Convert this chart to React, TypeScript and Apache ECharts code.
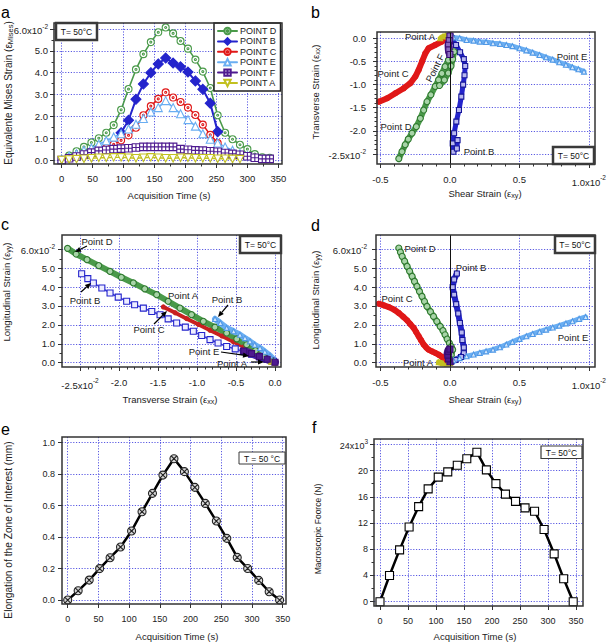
import React, { useEffect, useRef } from 'react';
import * as echarts from 'echarts';

const FONT = '"Liberation Sans", Arial, Helvetica, sans-serif';

// ---------- Panel a : equivalent Mises strain (x1e-2) vs acquisition time ----------
const timeA = [0, 12, 24, 36, 48, 60, 72, 84, 96, 108, 120, 132, 144, 156, 168, 180, 192, 204, 216, 228, 240, 252, 264, 276, 288, 300, 312, 324, 336];
const misesD = [0.0, 0.2, 0.4, 0.6, 0.8, 1.0, 1.25, 1.6, 2.3, 3.25, 4.15, 4.85, 5.4, 5.85, 6.07, 5.8, 5.45, 5.1, 4.6, 4.05, 3.3, 2.05, 1.25, 0.95, 0.7, 0.5, 0.27, 0.12, 0.1];
const misesB = [null, null, null, null, null, null, null, null, 1.25, 1.82, 2.78, 3.48, 4.0, 4.4, 4.67, 4.44, 4.27, 4.03, 3.62, 3.24, 2.6, 1.3, null, null, null, null, null, null, null];
const misesC = [null, null, null, null, null, null, 0.55, 0.72, 0.9, 1.13, 1.48, 2.05, 2.47, 2.8, 3.1, 2.86, 2.66, 2.4, 2.06, 1.62, 1.15, 0.78, null, null, null, null, null, null, null];
const misesE = [0.05, 0.18, 0.29, 0.44, 0.55, 0.72, 0.88, 1.05, 1.2, 1.42, 1.64, 1.9, 2.2, 2.4, 2.72, 2.4, 2.12, 1.85, 1.55, 1.2, 0.95, 0.78, 0.6, 0.45, 0.3, 0.2, null, null, null];
const misesF = [0, 0.08, 0.16, 0.25, 0.34, 0.42, 0.46, 0.5, 0.52, 0.54, 0.57, 0.6, 0.6, 0.6, 0.6, 0.6, 0.5, 0.47, 0.44, 0.43, 0.4, 0.38, 0.32, 0.28, 0.24, 0.17, 0.1, 0.05, 0.05];
const misesA = [0, 0.02, 0.04, 0.06, 0.08, 0.1, 0.1, 0.12, 0.12, 0.1, 0.08, 0.1, 0.12, 0.1, 0.08, 0.08, 0.1, 0.1, 0.08, 0.08, 0.08, 0.06, 0.06, 0.05, 0.04, null, null, null, null];
const legendNames = ['POINT D', 'POINT B', 'POINT C', 'POINT E', 'POINT F', 'POINT A'];

// ---------- Panel b : transverse strain (exx) vs shear strain (exy), x1e-2 ----------
const bPointB = [[0.013, 0.0], [0.044, -0.144], [0.073, -0.3], [0.1, -0.45], [0.11, -0.6], [0.105, -0.8], [0.095, -1.0], [0.082, -1.26], [0.065, -1.55], [0.046, -1.8], [0.03, -2.05], [0.02, -2.27], [0.025, -2.45], [0.05, -2.38], [0.055, -2.2]];
const bPointC = [[-0.511, -1.37], [-0.451, -1.295], [-0.392, -1.187], [-0.332, -1.079], [-0.285, -0.971], [-0.249, -0.827], [-0.225, -0.683], [-0.201, -0.504], [-0.177, -0.324], [-0.154, -0.216], [-0.106, -0.144], [-0.058, -0.072], [-0.023, 0.0]];
const bPointD = [[-0.368, -2.6], [-0.345, -2.45], [-0.322, -2.3], [-0.3, -2.18], [-0.273, -2.05], [-0.242, -1.91], [-0.213, -1.73], [-0.189, -1.55], [-0.165, -1.37], [-0.137, -1.22], [-0.106, -1.04], [-0.082, -0.9], [-0.058, -0.76], [-0.035, -0.61], [-0.011, -0.47], [0.013, -0.36], [0.03, -0.29], [0.02, -0.45], [0.008, -0.6], [-0.012, -0.75], [-0.04, -0.9], [-0.075, -1.02]];
const bPointE = [[0.025, 0.02], [0.07, 0.0], [0.12, -0.036], [0.17, -0.05], [0.215, -0.072], [0.26, -0.08], [0.31, -0.108], [0.36, -0.12], [0.406, -0.144], [0.45, -0.17], [0.501, -0.216], [0.55, -0.26], [0.596, -0.309], [0.645, -0.36], [0.692, -0.41], [0.74, -0.46], [0.787, -0.518], [0.835, -0.57], [0.882, -0.626], [0.925, -0.67], [0.965, -0.72]];
const bPointF = [[0.0, 0.05], [-0.005, -0.05], [-0.01, -0.15], [-0.008, -0.25], [0.0, -0.35]];
const bPointA = [[-0.07, 0.0], [-0.05, 0.04], [-0.03, 0.06], [-0.01, 0.04]];

// ---------- Panel c : longitudinal strain (eyy) vs transverse strain (exx), x1e-2 ----------
const cPointB = [[-2.479, 4.71], [-2.4, 4.45], [-2.329, 4.22], [-2.22, 3.95], [-2.115, 3.69], [-2.01, 3.47], [-1.902, 3.25], [-1.8, 3.07], [-1.688, 2.89], [-1.58, 2.71], [-1.474, 2.54], [-1.37, 2.32], [-1.261, 2.1], [-1.15, 1.88], [-1.047, 1.66], [-0.94, 1.44], [-0.833, 1.22], [-0.73, 1.04], [-0.62, 0.86], [-0.51, 0.73], [-0.406, 0.6], [-0.3, 0.45], [-0.192, 0.3], [-0.1, 0.17], [-0.021, 0.07]];
const cPointC = [[-1.431, 2.95], [-1.28, 2.64], [-1.132, 2.33], [-0.98, 2.02], [-0.833, 1.72], [-0.68, 1.41], [-0.534, 1.11], [-0.4, 0.84], [-0.278, 0.58], [-0.18, 0.39], [-0.085, 0.19], [-0.02, 0.05]];
const cPointD = [[-2.66, 6.05], [-2.55, 5.75], [-2.41, 5.45], [-2.26, 5.14], [-2.115, 4.83], [-1.97, 4.52], [-1.816, 4.22], [-1.67, 3.91], [-1.517, 3.6], [-1.37, 3.25], [-1.218, 2.89], [-1.07, 2.54], [-0.919, 2.19], [-0.77, 1.88], [-0.62, 1.57], [-0.49, 1.26], [-0.363, 0.95], [-0.25, 0.64], [-0.15, 0.34], [-0.06, 0.15], [-0.02, 0.07]];
const cPointE = [[-0.769, 2.31], [-0.7, 2.1], [-0.62, 1.84], [-0.53, 1.66], [-0.449, 1.48], [-0.385, 1.3], [-0.321, 1.13], [-0.26, 0.95], [-0.192, 0.78], [-0.13, 0.58], [-0.064, 0.37], [0.0, 0.1]];
const cPointA = [[-0.05, 0.05], [0.0, 0.0]];
const cPointF = [[-0.4, 0.62], [-0.3, 0.48], [-0.2, 0.32], [-0.1, 0.18], [0.0, 0.02]];

// ---------- Panel d : longitudinal strain (eyy) vs shear strain (exy), x1e-2 ----------
const dPointB = [[0.05, 4.72], [0.03, 4.4], [0.02, 4.0], [0.03, 3.6], [0.045, 3.1], [0.06, 2.6], [0.072, 2.1], [0.085, 1.6], [0.09, 1.2], [0.1, 0.8], [0.1, 0.5], [0.08, 0.3], [0.04, 0.15], [0.01, 0.05]];
const dPointC = [[-0.511, 3.12], [-0.475, 3.03], [-0.439, 2.94], [-0.4, 2.8], [-0.368, 2.63], [-0.338, 2.44], [-0.308, 2.24], [-0.285, 2.04], [-0.261, 1.84], [-0.243, 1.62], [-0.225, 1.4], [-0.207, 1.18], [-0.189, 0.96], [-0.17, 0.8], [-0.154, 0.69], [-0.13, 0.6], [-0.106, 0.52], [-0.08, 0.42], [-0.058, 0.31], [-0.035, 0.18], [-0.018, 0.08]];
const dPointD = [[-0.368, 6.07], [-0.356, 5.85], [-0.344, 5.63], [-0.326, 5.37], [-0.308, 5.1], [-0.29, 4.84], [-0.272, 4.57], [-0.255, 4.3], [-0.237, 4.04], [-0.219, 3.77], [-0.201, 3.51], [-0.183, 3.24], [-0.165, 2.98], [-0.14, 2.7], [-0.118, 2.45], [-0.094, 2.18], [-0.07, 1.92], [-0.05, 1.7], [-0.035, 1.48], [-0.02, 1.25], [-0.004, 1.04], [0.01, 0.85], [0.02, 0.69], [0.01, 0.4], [0.0, 0.2]];
const dPointE = [[0.025, 0.13], [0.07, 0.24], [0.12, 0.34], [0.17, 0.43], [0.215, 0.52], [0.26, 0.6], [0.31, 0.69], [0.36, 0.82], [0.406, 0.96], [0.45, 1.1], [0.501, 1.26], [0.55, 1.4], [0.596, 1.52], [0.645, 1.64], [0.692, 1.75], [0.74, 1.86], [0.787, 1.96], [0.835, 2.08], [0.882, 2.19], [0.93, 2.32], [0.977, 2.42]];
const dPointA = [[-0.08, 0.02], [-0.05, -0.03], [-0.02, -0.05], [0.0, -0.02]];
const dPointF = [[0.0, 0.05], [-0.01, 0.2], [-0.015, 0.4], [-0.01, 0.6], [0.0, 0.72]];

// ---------- Panel e : elongation (mm) vs time ----------
const timeE = [0, 17, 35, 52, 69, 86, 104, 121, 138, 155, 173, 190, 207, 224, 242, 259, 276, 293, 311, 328, 345];
const elongation = [0, 0.059, 0.127, 0.2, 0.269, 0.337, 0.439, 0.561, 0.678, 0.794, 0.898, 0.816, 0.716, 0.614, 0.502, 0.392, 0.271, 0.201, 0.125, 0.053, 0];

// ---------- Panel f : macroscopic force (x1e3 N) vs time ----------
const timeF = [0, 17, 35, 52, 69, 86, 104, 121, 138, 155, 173, 190, 207, 224, 242, 259, 276, 293, 311, 328, 345];
const force = [0, 4.0, 7.9, 11.4, 14.5, 17.2, 19.0, 19.8, 20.8, 21.8, 22.8, 20.1, 18.0, 16.4, 15.3, 14.3, 13.8, 11.0, 7.3, 3.5, 0];

// ---------- tick labels ----------
const ticksTime = [0, 50, 100, 150, 200, 250, 300, 350];
const ticksStrain6 = [0, 1, 2, 3, 4, 5, 6];
const ticksShear = [-0.5, 0, 0.5, 1.0];
const ticksTransB = [-2.5, -2.0, -1.5, -1.0, -0.5, 0];
const ticksTransC = [-2.5, -2.0, -1.5, -1.0, -0.5, 0];
const ticksElong = [0, 0.2, 0.4, 0.6, 0.8, 1.0];
const ticksForce = [0, 4, 8, 12, 16, 20, 24];

// ---------- styling ----------
const COL = {
  green: '#4a9a4a', greenDark: '#2f7a2f', greenFill: '#a8d4a8',
  blue: '#2424cc', blueDark: '#16169a',
  red: '#e01818',
  light: '#6aaef2', lightDark: '#4f98e6', lightFill: '#d4e7fb',
  purple: '#4e1a90', purpleDark: '#3a0c74',
  yellow: '#c2c020',
};
const SYM = {
  circDot: 'path://M10,5A5,5,0,1,1,0,5A5,5,0,1,1,10,5ZM6.4,5A1.4,1.4,0,1,1,3.6,5A1.4,1.4,0,1,1,6.4,5Z',
  sqPlus: 'path://M0,0H10V10H0ZM5,0V10M0,5H10',
  circX: 'path://M10,5A5,5,0,1,1,0,5A5,5,0,1,1,10,5ZM1.6,1.6L8.4,8.4M8.4,1.6L1.6,8.4',
  triDown: 'path://M0,0H10L5,8.66Z',
  triUp: 'path://M5,0L10,8.66H0Z',
};

const GRIDS = [
  { left: 54, top: 23, width: 228, height: 141 },
  { left: 377, top: 32, width: 218, height: 132 },
  { left: 62, top: 235, width: 219, height: 132 },
  { left: 376, top: 235, width: 219, height: 132 },
  { left: 62, top: 437, width: 224, height: 167 },
  { left: 374, top: 439, width: 209, height: 167 },
];

const RICH = {
  m: { fontSize: 9.5, fontFamily: FONT, color: '#222', padding: [3, 0, 0, 0] },
  s: { fontSize: 6.5, fontFamily: FONT, color: '#222', verticalAlign: 'top' },
};
const sup = (b: string, e: string) => `{m|${b}}{s|${e}}`;
const near = (a: number, b: number) => Math.abs(a - b) < 1e-6;

function minorsOf(majors: number[], n: number) {
  const out: number[] = [];
  for (let i = 0; i < majors.length - 1; i++) {
    const a = majors[i], b = majors[i + 1];
    for (let k = 1; k < n; k++) out.push(+(a + ((b - a) * k) / n).toFixed(4));
  }
  return out;
}

function mkAxes(dir: 'x' | 'y', grid: number, min: number, max: number, majors: number[], minorN: number, fmt: (v: number) => string, margin: number, fs = 9.5) {
  const tickStyle = { color: '#333', width: 1 };
  const position = dir === 'x' ? 'bottom' : 'left';
  return [
    {
      type: 'value', gridIndex: grid, min, max, position,
      axisLine: { show: false, onZero: false },
      axisTick: { show: true, inside: false, length: 4, lineStyle: tickStyle, customValues: majors },
      axisLabel: { show: true, customValues: majors, formatter: fmt, margin, color: '#222', fontSize: fs, fontFamily: FONT, rich: { ...RICH, m: { ...RICH.m, fontSize: fs } } },
      splitLine: { show: true, lineStyle: { color: '#4848e0', type: [1.2, 1.6], width: 0.9 } },
      minorTick: { show: false },
    },
    {
      type: 'value', gridIndex: grid, min, max, position,
      axisLine: { show: false, onZero: false },
      axisTick: { show: minorN > 1, inside: false, length: 2.5, lineStyle: tickStyle, customValues: minorN > 1 ? minorsOf(majors, minorN) : majors },
      axisLabel: { show: false },
      splitLine: { show: false },
    },
  ];
}

function lineS(name: string, data: any[], grid: number, color: string, symbol: string, size: number, fill: string, lineWidth: number, stroke?: string, extra: any = {}) {
  return {
    type: 'line', name, xAxisIndex: grid * 2, yAxisIndex: grid * 2, data,
    symbol, symbolSize: size, showSymbol: true, showAllSymbol: true,
    lineStyle: { color, width: lineWidth, cap: 'round', join: 'round' },
    itemStyle: { color: fill, borderColor: stroke || color, borderWidth: 1.1 },
    emphasis: { disabled: true }, silent: true, ...extra,
  };
}
const pairs = (xs: number[], ys: (number | null)[]) => xs.map((x, i) => [x, ys[i]]).filter((p) => p[1] !== null);

const zeroLine = {
  silent: true, symbol: ['none', 'none'], label: { show: false },
  lineStyle: { color: '#111', type: 'solid', width: 1 }, data: [{ xAxis: 0 }],
};

function txt(x: number, y: number, text: string, size = 9.5, extra: any = {}) {
  return { type: 'text', x, y, z: 120, silent: true, ...extra, style: { text, fontSize: size, fontFamily: FONT, fill: '#222', align: 'center', verticalAlign: 'middle', ...(extra.style || {}) } };
}
function richTitle(x: number, y: number, main: string, sub: string | null, size = 9.5, rotate = false) {
  const text = sub ? `{n|${main}}{b|${sub}}{n|)}` : `{n|${main}}`;
  return {
    type: 'text', x, y, z: 120, silent: true, rotation: rotate ? Math.PI / 2 : 0,
    style: {
      text, fontSize: size, fontFamily: FONT, fill: '#222', align: 'center', verticalAlign: 'middle',
      rich: {
        n: { fontSize: size, fontFamily: FONT, fill: '#222' },
        b: { fontSize: size * 0.75, fontFamily: FONT, fill: '#222', verticalAlign: 'bottom', padding: [5, 0, 0, 0] },
      },
    },
  };
}
function tbox(x: number, y: number, w: number, h: number, text: string, lw: number, fs = 8.5) {
  return [
    { type: 'rect', z: 110, silent: true, shape: { x, y, width: w, height: h }, style: { fill: '#fff', stroke: '#3a3a3a', lineWidth: lw } },
    { type: 'text', z: 111, silent: true, x: x + w / 2, y: y + h / 2 + 0.5, style: { text, fontSize: fs, fontFamily: FONT, fill: '#111', align: 'center', verticalAlign: 'middle' } },
  ];
}
function arrow(x1: number, y1: number, x2: number, y2: number) {
  const a = Math.atan2(y2 - y1, x2 - x1), L = 6, W = 2.6;
  const bx = x2 - L * Math.cos(a), by = y2 - L * Math.sin(a);
  return [
    { type: 'line', z: 120, silent: true, shape: { x1, y1, x2: bx, y2: by }, style: { stroke: '#000', lineWidth: 1.2 } },
    { type: 'polygon', z: 120, silent: true, shape: { points: [[x2, y2], [bx + W * Math.sin(a), by - W * Math.cos(a)], [bx - W * Math.sin(a), by + W * Math.cos(a)]] }, style: { fill: '#000' } },
  ];
}

function buildOption() {
  const fmtInt = (v: number) => String(v);
  const fmtY6 = (v: number) => (near(v, 6) ? sup('6.0x10', '-2') : v.toFixed(1));
  const fmtShear = (v: number) => (near(v, 1) ? sup('1.0x10', '-2') : v.toFixed(1));
  const fmtTransB = (v: number) => (near(v, -2.5) ? sup('-2.5x10', '-2') : v.toFixed(1));
  const fmtForce = (v: number) => (near(v, 24) ? sup('24x10', '3') : String(v));

  const xAxis = [
    ...mkAxes('x', 0, -12.4, 355.9, ticksTime, 2, fmtInt, 9),
    ...mkAxes('x', 1, -0.525, 1.032, ticksShear, 5, fmtShear, 10),
    ...mkAxes('x', 2, -2.731, 0.077, ticksTransC, 5, fmtTransB, 10),
    ...mkAxes('x', 3, -0.532, 1.032, ticksShear, 5, fmtShear, 10),
    ...mkAxes('x', 4, -9.3, 355.4, ticksTime, 1, fmtInt, 10, 9),
    ...mkAxes('x', 5, -10.7, 362.5, ticksTime, 1, fmtInt, 10, 9),
  ];
  const yAxis = [
    ...mkAxes('y', 0, -0.183, 6.276, ticksStrain6, 2, fmtY6, 6),
    ...mkAxes('y', 1, -2.716, 0.136, ticksTransB, 5, fmtTransB, 11),
    ...mkAxes('y', 2, -0.228, 6.757, ticksStrain6, 2, fmtY6, 7),
    ...mkAxes('y', 3, -0.228, 6.757, ticksStrain6, 2, fmtY6, 9),
    ...mkAxes('y', 4, -0.025, 1.036, ticksElong, 1, (v) => v.toFixed(1), 7, 9),
    ...mkAxes('y', 5, -0.656, 24.81, ticksForce, 2, fmtForce, 6, 9),
  ];

  const series: any[] = [
    // panel a
    lineS('POINT D', pairs(timeA, misesD), 0, COL.green, SYM.circDot, 7, '#fff', 1.6),
    lineS('POINT B', pairs(timeA, misesB), 0, COL.blue, 'diamond', 10, COL.blue, 2),
    lineS('POINT C', pairs(timeA, misesC), 0, COL.red, SYM.circDot, 7, '#fff', 1.6),
    lineS('POINT E', pairs(timeA, misesE), 0, COL.light, SYM.triUp, 8, '#fff', 1.6),
    lineS('POINT F', pairs(timeA, misesF), 0, COL.purple, SYM.sqPlus, 7.5, '#fff', 2),
    lineS('POINT A', pairs(timeA, misesA), 0, COL.yellow, SYM.triDown, 7.5, '#fff', 1.4),
    // panel b
    lineS('bB', bPointB, 1, COL.blue, 'rect', 5, '#b8b8f0', 5, COL.blueDark, { markLine: zeroLine }),
    lineS('bC', bPointC, 1, COL.red, 'circle', 5, COL.red, 6, COL.red),
    lineS('bD', bPointD, 1, COL.green, 'circle', 6, COL.greenFill, 6, COL.greenDark),
    lineS('bE', bPointE, 1, COL.light, 'triangle', 5, COL.lightFill, 5, COL.lightDark),
    lineS('bA', bPointA, 1, COL.yellow, 'triangle', 5, COL.yellow, 5),
    lineS('bF', bPointF, 1, COL.purple, 'rect', 6, '#8a6ac0', 8, COL.purpleDark),
    // panel c
    lineS('cB', cPointB, 2, '#3a3ad8', 'rect', 6, '#eeeeff', 1.5, COL.blue),
    lineS('cC', cPointC, 2, '#c82020', 'circle', 4, '#c82020', 4, '#c82020'),
    lineS('cD', cPointD, 2, COL.green, 'circle', 6, COL.greenFill, 6, COL.greenDark),
    lineS('cE', cPointE, 2, COL.light, 'triangle', 5, COL.lightFill, 6, COL.lightDark),
    lineS('cA', cPointA, 2, COL.yellow, 'triangle', 5, COL.yellow, 5),
    lineS('cF', cPointF, 2, COL.purple, 'rect', 6, COL.purple, 8, COL.purpleDark),
    // panel d
    lineS('dB', dPointB, 3, COL.blue, 'rect', 5, '#b8b8f0', 6, COL.blueDark, { markLine: zeroLine }),
    lineS('dC', dPointC, 3, COL.red, 'circle', 5, COL.red, 6, COL.red),
    lineS('dD', dPointD, 3, COL.green, 'circle', 6, COL.greenFill, 6, COL.greenDark),
    lineS('dE', dPointE, 3, COL.light, 'triangle', 5, COL.lightFill, 5, COL.lightDark),
    lineS('dA', dPointA, 3, COL.yellow, 'triangle', 5, COL.yellow, 6),
    lineS('dF', dPointF, 3, COL.purple, 'rect', 6, COL.purple, 9, COL.purpleDark),
    // panel e, f
    lineS('elong', pairs(timeE, elongation), 4, '#000', SYM.circX, 8, '#d8d8d8', 2.5, '#222'),
    lineS('force', pairs(timeF, force), 5, '#000', 'rect', 8, '#fff', 2.5, '#000'),
  ];

  const graphic: any[] = [];
  GRIDS.forEach((g) => {
    graphic.push({ type: 'rect', z: 100, silent: true, shape: { x: g.left, y: g.top, width: g.width, height: g.height }, style: { fill: 'none', stroke: '#333', lineWidth: 1.5 } });
  });
  // panel letters
  [['a', 1, 12], ['b', 311, 12], ['c', 1, 224], ['d', 311, 225], ['e', 1, 429], ['f', 312, 427]].forEach(([t, x, y]) => {
    graphic.push({ type: 'text', z: 120, silent: true, x, y, style: { text: t, fontSize: 16, fontFamily: FONT, fill: '#000', align: 'left', verticalAlign: 'middle' } });
  });
  // axis titles
  graphic.push(richTitle(169, 195, 'Acquisition Time (s)', null));
  graphic.push(richTitle(8, 93, 'Equivalente Mises Strain (ε', 'Mises', 10, true));
  graphic.push(richTitle(485, 193, 'Shear Strain (ε', 'xy'));
  graphic.push(richTitle(315, 92, 'Transverse Strain (ε', 'xx', 9.5, true));
  graphic.push(richTitle(170, 399, 'Transverse Strain (ε', 'xx'));
  graphic.push(richTitle(6, 292, 'Longitudinal Strain (ε', 'yy', 9.5, true));
  graphic.push(richTitle(485, 399, 'Shear Strain (ε', 'xy'));
  graphic.push(richTitle(315, 300, 'Longitudinal Strain (ε', 'yy', 9.5, true));
  graphic.push(richTitle(177, 636, 'Acquisition Time (s)', null));
  graphic.push(richTitle(8, 530, 'Elongation of the Zone of Interest (mm)', null, 10.2, true));
  graphic.push(richTitle(475, 636, 'Acquisition Time (s)', null));
  graphic.push(richTitle(318, 529, 'Macroscopic Foorce (N)', null, 8.5, true));
  // T boxes
  graphic.push(...tbox(56, 23, 41, 17, 'T= 50°C', 2.5));
  graphic.push(...tbox(553, 147, 41, 17, 'T= 50°C', 2.5));
  graphic.push(...tbox(240, 236, 41, 17, 'T= 50°C', 2.5));
  graphic.push(...tbox(555, 236, 40, 17, 'T= 50°C', 2.5));
  graphic.push(...tbox(239, 452, 46, 12, 'T = 50 °C', 1, 8.5));
  graphic.push(...tbox(541, 446, 41, 12.5, 'T= 50°C', 1.2, 8.5));
  // panel b labels
  graphic.push(txt(420, 36, 'Point A'), txt(393, 73, 'Point C'), txt(396, 126, 'Point D'), txt(479, 151, 'Point B'), txt(572, 56, 'Point E'));
  graphic.push(txt(435, 68, 'Point F', 9.5, { rotation: 1.1 }));
  // panel c labels and arrows
  graphic.push(txt(97, 241, 'Point D'), txt(85, 300, 'Point B'), txt(183, 295, 'Point A'), txt(149, 329, 'Point C'), txt(227, 299, 'Point B'), txt(204, 351, 'Point E'), txt(232, 363, 'Point A'));
  graphic.push(...arrow(87, 246, 75, 252), ...arrow(81, 292, 91, 283), ...arrow(154, 324, 167, 311), ...arrow(228, 305, 218, 317), ...arrow(221, 352, 249, 356), ...arrow(251, 362, 264, 362));
  // panel d labels
  graphic.push(txt(420, 248, 'Point D'), txt(471, 267, 'Point B'), txt(397, 298, 'Point C'), txt(573, 337, 'Point E'), txt(418, 362, 'Point A'));

  return {
    animation: false,
    backgroundColor: '#fff',
    textStyle: { fontFamily: FONT },
    grid: GRIDS.map((g) => ({ ...g, containLabel: false, show: false })),
    xAxis, yAxis, series, graphic,
    legend: {
      data: legendNames, orient: 'vertical', left: 214, top: 23,
      itemWidth: 19, itemHeight: 8, itemGap: 0.4, padding: [3, 4, 3, 3],
      textStyle: { fontSize: 9, fontFamily: FONT, color: '#222', lineHeight: 10, padding: [0, 0, 0, -2] },
      backgroundColor: '#fff', borderColor: '#222', borderWidth: 1.5, borderRadius: 0,
      selectedMode: false, z: 50,
    },
  };
}

export default function App() {
  const ref = useRef<HTMLDivElement>(null);
  useEffect(() => {
    if (!ref.current) return;
    const chart = echarts.init(ref.current, null, { renderer: 'svg' });
    chart.setOption(buildOption() as any);
    return () => chart.dispose();
  }, []);
  return <div ref={ref} style={{ position: 'absolute', left: 0, top: 0, width: 609, height: 642, background: '#fff' }} />;
}
